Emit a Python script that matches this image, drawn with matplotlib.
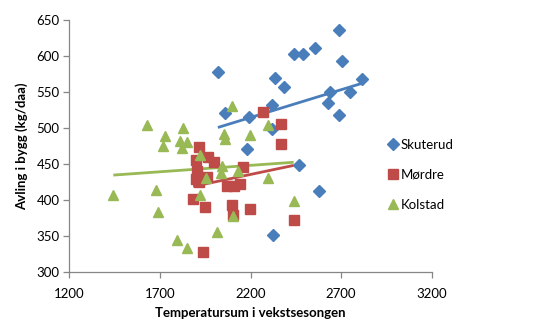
import numpy as np
import matplotlib
matplotlib.use("Agg")
import matplotlib.pyplot as plt

# values
skuterud_t = [2020, 2060, 2189, 2180, 2318, 2318, 2336, 2386, 2438, 2489, 2557,
              2686, 2703, 2640, 2625, 2686, 2751, 2815, 2324, 2465, 2576]
skuterud_y = [578, 520, 515, 471, 531, 498, 569, 556, 602, 602, 610,
              636, 593, 549, 535, 518, 550, 568, 352, 449, 412]

mordre_t = [1917, 1963, 1900, 1996, 2267, 2368, 2368, 2156, 1905, 1900, 1918,
            1959, 2072, 2110, 2140, 1884, 1950, 2097, 2198, 2106, 2438, 1940]
mordre_y = [474, 459, 455, 453, 522, 505, 477, 446, 440, 429, 425,
            432, 420, 420, 422, 402, 390, 393, 387, 379, 373, 328]

kolstad_t = [1443, 1627, 1679, 1692, 1719, 1729, 1797, 1812, 1821, 1830, 1848,
             1848, 1922, 1922, 1955, 2014, 2036, 2042, 2051, 2060, 2097, 2103,
             2130, 2198, 2299, 2299, 2438]
kolstad_y = [407, 504, 414, 384, 475, 489, 345, 482, 472, 500, 480,
             333, 463, 407, 430, 356, 438, 447, 492, 485, 530, 378,
             440, 490, 504, 430, 399]

series = [
    ("Skuterud", skuterud_t, skuterud_y, "#4A7EBB", "D", 6.5),
    ("Mørdre", mordre_t, mordre_y, "#BE4B48", "s", 7.0),
    ("Kolstad", kolstad_t, kolstad_y, "#98B954", "^", 7.6),
]

x_ticks = [1200, 1700, 2200, 2700, 3200]
y_ticks = [300, 350, 400, 450, 500, 550, 600, 650]

plt.rcParams['font.family'] = ['Lato', 'DejaVu Sans']

fig = plt.figure(figsize=(5.44, 3.22), dpi=100)
ax = fig.add_axes([0.1274, 0.1543, 0.6662, 0.7851])

for name, t, y, color, marker, ms in series:
    ax.plot(t, y, linestyle='none', marker=marker, markersize=ms,
            color=color, markeredgecolor=color, label=name, zorder=3)

# linear trend lines over each series' range
for name, t, y, color, marker, ms in series:
    t = np.asarray(t, float)
    k, m = np.polyfit(t, y, 1)
    xs = np.array([t.min(), t.max()])
    ax.plot(xs, k * xs + m, color=color, linewidth=2.0, zorder=2,
            solid_capstyle='butt')

ax.set_xlim(1200, 3200)
ax.set_ylim(300, 650)
ax.set_xticks(x_ticks)
ax.set_yticks(y_ticks)

for side in ['top', 'right']:
    ax.spines[side].set_visible(False)
for side in ['left', 'bottom']:
    ax.spines[side].set_color('#868686')
    ax.spines[side].set_linewidth(0.9)
ax.tick_params(direction='out', length=4, width=0.9, color='#868686',
               labelsize=9.5, labelcolor='black', pad=3)
ax.tick_params(axis='x', pad=7)

ax.set_xlabel('Temperatursum i vekstsesongen', fontsize=9.5,
              fontweight='bold', labelpad=5)
ax.set_ylabel('Avling i bygg (kg/daa)', fontsize=9.5,
              fontweight='bold', labelpad=6)

ax.legend(loc='center left', bbox_to_anchor=(0.705, 0.457),
          bbox_transform=fig.transFigure, frameon=False, fontsize=9.5,
          handlelength=0.6, handletextpad=0.3, labelspacing=1.35,
          borderaxespad=0)

fig.savefig('out.png', dpi=100)
